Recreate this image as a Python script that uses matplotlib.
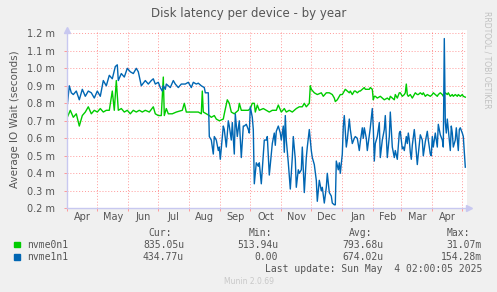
import matplotlib
matplotlib.use("Agg")
import matplotlib.pyplot as plt
from matplotlib.ticker import FixedLocator, FuncFormatter

# days since Apr 1 2024, values in milliseconds
blue_days = [0, 2, 4, 6, 9, 12, 15, 18, 21, 24, 27, 30, 33, 36, 39, 42, 45, 48, 50, 51, 54, 57, 60,
             63, 66, 69, 71, 74, 78, 81, 84, 86, 88, 91, 93, 95, 96, 98, 99, 103, 106, 108, 111, 114,
             118, 121, 124, 126, 129, 131, 134, 137, 138, 141, 142, 144, 146, 147, 149, 151, 152, 153,
             156, 157, 159, 161, 162, 164, 165, 167, 168, 170, 172, 174, 176, 177, 179, 181, 182, 183,
             185, 186, 187, 189, 191, 192, 194, 196, 197, 199, 200, 202, 204, 205, 207, 208, 209, 211,
             213, 214, 216, 217, 218, 219, 221, 223, 225, 226, 228, 229, 231, 232, 234, 235, 237, 239,
             240, 242, 244, 245, 247, 249, 250, 252, 254, 255, 257, 259, 260, 262, 264, 265, 267, 268,
             269, 271, 272, 273, 275, 276, 277, 279, 280, 282, 283, 285, 287, 288, 290, 292, 293, 295,
             296, 297, 299, 300, 302, 303, 305, 306, 307, 308, 310, 312, 313, 315, 317, 318, 320, 322,
             323, 325, 327, 328, 330, 332, 333, 335, 336, 337, 339, 340, 341, 342, 343, 344, 345, 347,
             348, 350, 351, 353, 355, 356, 358, 360, 361, 363, 364, 365, 366, 368, 370, 371, 373, 375,
             376, 377, 378, 379, 380, 381, 383, 384, 385, 386, 388, 389, 391, 392, 393, 395, 396, 397,
             398]
blue_vals = [0.79, 0.90, 0.86, 0.85, 0.87, 0.82, 0.88, 0.84, 0.87, 0.86, 0.83, 0.87, 0.84, 0.93, 0.90,
             0.96, 0.94, 1.01, 1.02, 0.93, 0.97, 0.95, 1.00,
             0.98, 0.97, 1.00, 0.98, 0.90, 0.93, 0.91, 0.93, 0.94, 0.91, 0.92, 0.89, 0.87, 0.90, 0.88,
             0.91, 0.89, 0.93, 0.91, 0.89, 0.91, 0.91, 0.92, 0.89, 0.92, 0.91,
             0.915, 0.90, 0.89, 0.86, 0.86, 0.61, 0.59, 0.51, 0.61, 0.59, 0.53, 0.55, 0.48, 0.67, 0.65,
             0.55, 0.70, 0.67, 0.59, 0.69, 0.51, 0.74, 0.61, 0.70, 0.49, 0.67, 0.67, 0.68, 0.65, 0.63,
             0.78, 0.72, 0.65, 0.34, 0.46, 0.44, 0.46, 0.34, 0.51, 0.59,
             0.59, 0.61, 0.39, 0.51, 0.57, 0.63, 0.56, 0.64, 0.67, 0.63, 0.59, 0.67, 0.52, 0.73, 0.59,
             0.46, 0.31, 0.49, 0.61, 0.48, 0.32, 0.42, 0.40, 0.42, 0.55, 0.29, 0.49, 0.55, 0.65, 0.53,
             0.49, 0.45, 0.36, 0.24, 0.36, 0.30, 0.32, 0.23, 0.32, 0.40, 0.29, 0.27, 0.23, 0.22, 0.22,
             0.47, 0.42, 0.46, 0.40, 0.51, 0.67, 0.73, 0.55, 0.59, 0.71, 0.65, 0.57, 0.60, 0.61, 0.60,
             0.53, 0.58, 0.66, 0.60, 0.66, 0.60, 0.53, 0.62, 0.66, 0.77, 0.66, 0.47, 0.57, 0.61, 0.69,
             0.49, 0.59, 0.65, 0.73, 0.49, 0.61, 0.75, 0.55, 0.49, 0.53, 0.48, 0.63, 0.64,
             0.54, 0.55, 0.53, 0.61, 0.57, 0.63, 0.59, 0.52, 0.48, 0.56, 0.65, 0.59, 0.45, 0.51, 0.62,
             0.59, 0.50, 0.58, 0.64, 0.59, 0.51, 0.50, 0.61, 0.55, 0.63, 0.55, 0.68, 0.62, 0.59, 0.55,
             1.17, 0.69, 0.63, 0.71, 0.65, 0.53, 0.67, 0.63, 0.55, 0.59, 0.66, 0.53, 0.65, 0.66, 0.63,
             0.61, 0.52, 0.435]

green_days = [0, 3, 6, 9, 12, 15, 18, 21, 24, 27, 30, 33, 36, 39, 42, 45, 47, 49, 51, 54, 57, 60, 63,
              66, 69, 72, 75, 78, 82, 86, 88, 91, 94, 96, 97, 99, 101, 105, 109, 115, 117, 119, 122,
              129, 131, 134, 135, 136, 139, 142, 144, 147, 149, 152, 156, 157, 160, 162, 164, 167, 169,
              171, 172, 174, 177, 181, 183, 185, 187, 188, 190, 192, 196, 199, 202, 205, 209, 211, 214,
              217, 219, 222, 225, 229, 232, 235, 237, 239, 242, 243, 244, 247, 250, 254, 256, 259, 262,
              265, 267, 268, 270, 272, 273, 275, 277, 278, 280, 282, 283, 285, 287, 288, 290, 292, 293,
              295, 297, 298, 300, 302, 303, 305, 306, 307, 308, 310, 313, 315, 317, 320, 322, 323, 327,
              328, 330, 332, 333, 335, 337, 338, 339, 340, 341, 343, 345, 346, 348, 350, 351, 353, 355,
              356, 358, 360, 363, 365, 366, 368, 370, 371, 373, 375, 376, 378, 380, 381, 383, 385, 386,
              388, 390, 391, 393, 395, 396, 398]
green_vals = [0.72, 0.76, 0.72, 0.74, 0.67, 0.73, 0.75, 0.78, 0.74, 0.76, 0.75, 0.77, 0.75, 0.76, 0.76,
              0.87, 0.76, 0.93, 0.76, 0.77, 0.75, 0.76, 0.74,
              0.76, 0.75, 0.76, 0.75, 0.76, 0.75, 0.78, 0.74, 0.73, 0.73, 0.95, 0.73, 0.77, 0.74, 0.74,
              0.75, 0.76, 0.80, 0.75, 0.75, 0.75,
              0.75, 0.74, 0.87, 0.75, 0.74, 0.73, 0.72, 0.73, 0.71, 0.70, 0.71, 0.74, 0.82, 0.80, 0.75,
              0.74, 0.75, 0.76, 0.80, 0.76, 0.76, 0.76, 0.77, 0.80, 0.80, 0.75, 0.79, 0.76, 0.77,
              0.76, 0.75, 0.76, 0.76, 0.79, 0.75, 0.77, 0.75, 0.76, 0.75, 0.77, 0.78, 0.78, 0.80, 0.78,
              0.80, 0.90, 0.88, 0.86, 0.85, 0.86, 0.84, 0.86, 0.86, 0.85,
              0.83, 0.81, 0.82, 0.84, 0.85, 0.85, 0.87, 0.88, 0.87, 0.86, 0.87, 0.85, 0.87, 0.87, 0.86,
              0.87, 0.87, 0.88, 0.89, 0.88, 0.88, 0.88, 0.89, 0.88, 0.82, 0.84, 0.84, 0.83, 0.84, 0.83,
              0.82, 0.83, 0.82, 0.84, 0.82, 0.85, 0.83, 0.86, 0.86,
              0.84, 0.85, 0.86, 0.91, 0.85, 0.84, 0.85, 0.83, 0.84, 0.86, 0.85, 0.85, 0.86, 0.85, 0.86,
              0.84, 0.85, 0.84, 0.85, 0.86, 0.85, 0.84, 0.85, 0.86, 0.85, 0.84, 0.86, 0.85, 0.86, 0.84,
              0.85, 0.84, 0.85, 0.84, 0.85, 0.84, 0.85, 0.84, 0.835]

month_starts = [0, 30, 61, 91, 122, 153, 183, 214, 244, 275, 306, 334, 365, 395]
month_names = ["Apr", "May", "Jun", "Jul", "Aug", "Sep", "Oct", "Nov", "Dec",
               "Jan", "Feb", "Mar", "Apr"]
y_ticks = [0.2, 0.3, 0.4, 0.5, 0.6, 0.7, 0.8, 0.9, 1.0, 1.1, 1.2]

series_names = ["nvme0n1", "nvme1n1"]
colors = ["#00cc00", "#0066b3"]
cur_vals = ["835.05u", "434.77u"]
min_vals = ["513.94u", "0.00"]
avg_vals = ["793.68u", "674.02u"]
max_vals = ["31.07m", "154.28m"]

W, H = 497, 292
fig = plt.figure(figsize=(W / 100, H / 100), dpi=100, facecolor="#f0f0f0")
ax = fig.add_axes([67.3 / W, (H - 208.3) / H, 399.4 / W, 178 / H])
ax.set_facecolor("white")

ax.plot(green_days, green_vals, color=colors[0], lw=1.0, zorder=3)
ax.plot(blue_days, blue_vals, color=colors[1], lw=1.0, zorder=4)

ax.set_xlim(0, 399.4)
ax.set_ylim(0.2, 1.2 + 3 / 175)

# grid
for d in month_starts:
    ax.axvline(d, color="#ff0000", alpha=0.4, lw=0.7, ls=(0, (1, 2)), zorder=1)
for v in y_ticks:
    ax.axhline(v, color="#ff0000", alpha=0.4, lw=0.7, ls=(0, (1, 2)), zorder=1)

for s in ["top", "right"]:
    ax.spines[s].set_visible(False)
for s in ["left", "bottom"]:
    ax.spines[s].set_color("#c8c8f0")
    ax.spines[s].set_linewidth(1.0)
    ax.spines[s].set_zorder(5)

ax.yaxis.set_major_locator(FixedLocator(y_ticks))
ax.yaxis.set_major_formatter(FuncFormatter(lambda v, p: "%.1f m" % v))
ax.xaxis.set_major_locator(FixedLocator(month_starts))
ax.xaxis.set_major_formatter(FuncFormatter(lambda v, p: ""))
mids = [(month_starts[i] + month_starts[i + 1]) / 2 for i in range(len(month_names))]
ax.xaxis.set_minor_locator(FixedLocator(mids))
ax.set_xticklabels(month_names, minor=True)
ax.tick_params(axis="both", which="major", length=2, color="#ff9999", width=0.7,
               labelsize=7, labelcolor="#555555", pad=2)
ax.tick_params(axis="y", which="major", pad=7)
ax.tick_params(axis="x", which="minor", length=0, labelsize=7, labelcolor="#555555", pad=3)

# axis arrows
ax.plot([0], [1.0], marker="^", color="#c8c8f0", ms=4, transform=ax.transAxes, clip_on=False, zorder=6)
ax.plot([1.006], [0.0], marker=">", color="#c8c8f0", ms=4, transform=ax.transAxes, clip_on=False, zorder=6)

ax.set_ylabel("Average IO Wait (seconds)", fontsize=7.5, color="#555555", labelpad=5)

fig.text(248.5 / W, 1 - 13 / H, "Disk latency per device - by year", ha="center", va="center",
         fontsize=8.5, color="#555555")
fig.text(487.5 / W, 1 - 60 / H, "RRDTOOL / TOBI OETIKER", rotation=270, ha="center", va="center",
         fontsize=5.5, color="#c0c0c0")

mono = "DejaVu Sans Mono"
fs = 7
tc = "#555555"
fig.text(172 / W, 1 - 233 / H, "Cur:", ha="right", va="center", family=mono, fontsize=fs, color=tc)
fig.text(272 / W, 1 - 233 / H, "Min:", ha="right", va="center", family=mono, fontsize=fs, color=tc)
fig.text(372 / W, 1 - 233 / H, "Avg:", ha="right", va="center", family=mono, fontsize=fs, color=tc)
fig.text(470 / W, 1 - 233 / H, "Max:", ha="right", va="center", family=mono, fontsize=fs, color=tc)

rows_y = [244.5, 257]
for i in range(2):
    y = 1 - rows_y[i] / H
    fig.patches.append(plt.Rectangle((14 / W, y - 2.5 / H), 5.5 / W, 5.5 / H, transform=fig.transFigure,
                                     color=colors[i], figure=fig))
    fig.text(27 / W, y, series_names[i], ha="left", va="center", family=mono, fontsize=fs, color=tc)
    fig.text(184 / W, y, cur_vals[i], ha="right", va="center", family=mono, fontsize=fs, color=tc)
    fig.text(278 / W, y, min_vals[i], ha="right", va="center", family=mono, fontsize=fs, color=tc)
    fig.text(383.5 / W, y, avg_vals[i], ha="right", va="center", family=mono, fontsize=fs, color=tc)
    fig.text(482 / W, y, max_vals[i], ha="right", va="center", family=mono, fontsize=fs, color=tc)

fig.text(482 / W, 1 - 269 / H, "Last update: Sun May  4 02:00:05 2025", ha="right", va="center",
         family=mono, fontsize=fs, color=tc)
fig.text(249 / W, 1 - 281 / H, "Munin 2.0.69", ha="center", va="center", fontsize=5.5, color="#c8c8c8")

fig.savefig("out.png", dpi=100, facecolor=fig.get_facecolor())
